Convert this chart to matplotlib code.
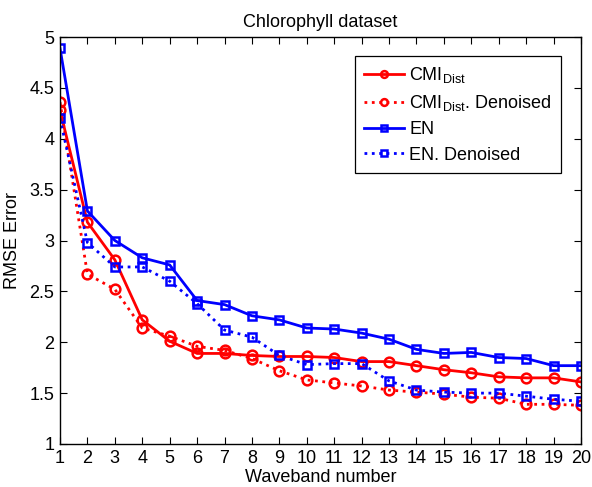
import matplotlib
matplotlib.use("Agg")
import matplotlib.pyplot as plt

plt.rcParams['font.family'] = ['Liberation Sans', 'DejaVu Sans']
plt.rcParams['mathtext.fontset'] = 'custom'
plt.rcParams['mathtext.rm'] = 'Liberation Sans'
plt.rcParams['mathtext.it'] = 'Liberation Sans'

waveband = list(range(1, 21))
cmi = [4.28, 3.18, 2.81, 2.22, 2.01, 1.89, 1.89, 1.87, 1.86, 1.86,
       1.85, 1.81, 1.81, 1.77, 1.73, 1.70, 1.66, 1.65, 1.65, 1.61]
cmi_den = [4.36, 2.67, 2.52, 2.14, 2.06, 1.96, 1.92, 1.84, 1.72, 1.63,
           1.60, 1.57, 1.53, 1.51, 1.49, 1.46, 1.45, 1.39, 1.39, 1.38]
en = [4.89, 3.29, 3.00, 2.83, 2.76, 2.41, 2.37, 2.26, 2.22, 2.14,
      2.13, 2.09, 2.03, 1.93, 1.89, 1.90, 1.85, 1.84, 1.77, 1.77]
en_den = [4.20, 2.98, 2.74, 2.74, 2.60, 2.38, 2.12, 2.05, 1.87, 1.78,
          1.79, 1.79, 1.62, 1.53, 1.51, 1.50, 1.50, 1.47, 1.44, 1.42]
labels = [r'CMI$_{\mathrm{Dist}}$', r'CMI$_{\mathrm{Dist}}$. Denoised', 'EN', 'EN. Denoised']
title = 'Chlorophyll dataset'
xlabel = 'Waveband number'
ylabel = 'RMSE Error'

fig = plt.figure(figsize=(5.92, 4.87), dpi=100)
ax = fig.add_axes([60/592, 43/487, 521/592, 407/487])

lw = 2.0
ax.plot(waveband, cmi, color='#ff0000', ls='-', lw=lw, marker='o', ms=7,
        mfc='none', mec='#ff0000', mew=1.8, label=labels[0])
ax.plot(waveband, cmi_den, color='#ff0000', ls=':', lw=lw, marker='o', ms=7,
        mfc='none', mec='#ff0000', mew=1.8, label=labels[1])
ax.plot(waveband, en, color='#0000ff', ls='-', lw=lw, marker='s', ms=6,
        mfc='none', mec='#0000ff', mew=1.8, label=labels[2])
ax.plot(waveband, en_den, color='#0000ff', ls=':', lw=lw, marker='s', ms=6,
        mfc='none', mec='#0000ff', mew=1.8, label=labels[3])

ax.set_xlim(1, 20)
ax.set_ylim(1, 5)
ax.set_xticks(waveband)
ax.set_yticks([1, 1.5, 2, 2.5, 3, 3.5, 4, 4.5, 5])
ax.set_yticklabels(['1', '1.5', '2', '2.5', '3', '3.5', '4', '4.5', '5'])
ax.tick_params(direction='in', top=True, right=True, labelsize=13, length=5, width=0.8, pad=4)
for s in ax.spines.values():
    s.set_linewidth(1.0)

ax.set_title(title, fontsize=13, pad=7)
ax.set_xlabel(xlabel, fontsize=13, labelpad=2)
ax.set_ylabel(ylabel, fontsize=13, labelpad=6)

leg = ax.legend(loc='upper right', bbox_to_anchor=(0.961, 0.953), borderaxespad=0,
                fontsize=13, fancybox=False, framealpha=1, edgecolor='black',
                handlelength=2.2, handletextpad=0.3, borderpad=0.5,
                labelspacing=0.45, markerscale=0.7)
leg.get_frame().set_linewidth(0.9)

fig.savefig('out.png', dpi=100)
